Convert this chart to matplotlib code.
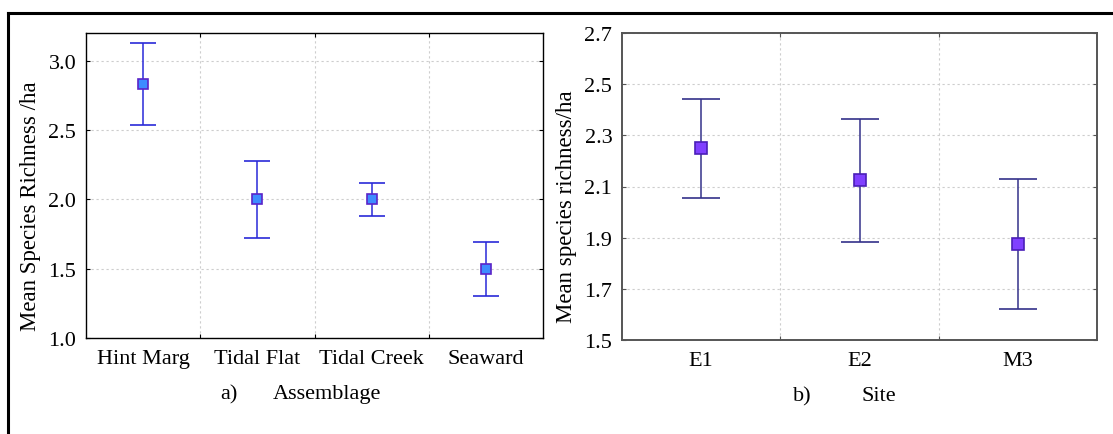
import numpy as np
import matplotlib
matplotlib.use("Agg")
import matplotlib.pyplot as plt
from matplotlib.lines import Line2D

plt.rcParams['font.family'] = ['Liberation Serif', 'DejaVu Serif']

# panel a) - assemblage
assemblages = ["Hint Marg", "Tidal Flat", "Tidal Creek", "Seaward"]
rich_mean_a = [2.83, 2.00, 2.00, 1.50]
rich_low_a = [2.54, 1.72, 1.88, 1.305]
rich_high_a = [3.13, 2.275, 2.12, 1.695]

# panel b) - site
sites = ["E1", "E2", "M3"]
rich_mean_b = [2.25, 2.125, 1.875]
rich_low_b = [2.055, 1.885, 1.62]
rich_high_b = [2.442, 2.363, 2.13]

W, H = 1113, 435
fig = plt.figure(figsize=(W/100, H/100), dpi=100)

def fx(px):
    return px/W
def fy(py):
    return 1 - py/H

# outer frame (left + top)
fig.add_artist(Line2D([fx(8), fx(8)], [0, fy(14)], color='k', lw=2.2))
fig.add_artist(Line2D([fx(8), 1], [fy(14), fy(14)], color='k', lw=2.2))

grid_kw = dict(color='#cdcdcd', lw=0.8, ls=(0, (2, 2.5)))
FS = 16

def setup(ax, cats, spine_col, spine_lw):
    n = len(cats)
    ax.set_xlim(-0.5, n-0.5)
    ax.set_xticks(np.arange(n-1)+0.5)
    ax.set_xticklabels([])
    ax.set_xticks(np.arange(n), minor=True)
    ax.set_xticklabels(cats, minor=True, fontsize=FS)
    ax.tick_params(axis='x', which='minor', length=0, pad=8)
    ax.tick_params(which='major', direction='in', length=3, top=True, right=True,
                   labelsize=FS, color=spine_col)
    ax.tick_params(axis='y', pad=7)
    ax.grid(True, which='major', **grid_kw)
    for s in ax.spines.values():
        s.set_color(spine_col)
        s.set_linewidth(spine_lw)

# a)
ax1 = fig.add_axes([fx(86), fy(339), (543-86)/W, (339-34)/H])
x1 = np.arange(len(assemblages))
m1 = np.array(rich_mean_a)
ax1.errorbar(x1, m1, yerr=[m1-np.array(rich_low_a), np.array(rich_high_a)-m1],
             fmt='s', color='#2a2ad8', ecolor='#2a2ad8', elinewidth=1.1, capsize=9.7,
             capthick=1.1, markersize=7.5, markerfacecolor='#3d8cff',
             markeredgecolor='#5a24c8', markeredgewidth=1.2)
ax1.set_ylim(1.0, 3.2)
ax1.set_yticks([1.0, 1.5, 2.0, 2.5, 3.0])
ax1.set_yticklabels(["1.0", "1.5", "2.0", "2.5", "3.0"])
setup(ax1, assemblages, 'black', 1.0)
ax1.set_ylabel("Mean Species Richness /ha", fontsize=FS+0.5, va='center')
ax1.yaxis.set_label_coords(-0.1225, 0.436)
fig.text(fx(229), fy(395), "a)", ha='center', va='center', fontsize=FS)
fig.text(fx(327), fy(395), "Assemblage", ha='center', va='center', fontsize=FS)

# b)
ax2 = fig.add_axes([fx(622), fy(341), (1097-622)/W, (341-34)/H])
x2 = np.arange(len(sites))
m2 = np.array(rich_mean_b)
ax2.errorbar(x2, m2, yerr=[m2-np.array(rich_low_b), np.array(rich_high_b)-m2],
             fmt='s', color='#34318a', ecolor='#34318a', elinewidth=1.1, capsize=14,
             capthick=1.1, markersize=8, markerfacecolor='#8040ff',
             markeredgecolor='#4a1fb8', markeredgewidth=1.2)
ax2.set_ylim(1.5, 2.7)
ax2.set_yticks([1.5, 1.7, 1.9, 2.1, 2.3, 2.5, 2.7])
setup(ax2, sites, '#555555', 1.4)
ax2.set_ylabel("Mean species richness/ha", fontsize=FS+0.5, va='center')
ax2.yaxis.set_label_coords(-0.116, 0.436)
fig.text(fx(802), fy(397), "b)", ha='center', va='center', fontsize=FS)
fig.text(fx(879), fy(397), "Site", ha='center', va='center', fontsize=FS)

fig.savefig("out.png", dpi=100)
